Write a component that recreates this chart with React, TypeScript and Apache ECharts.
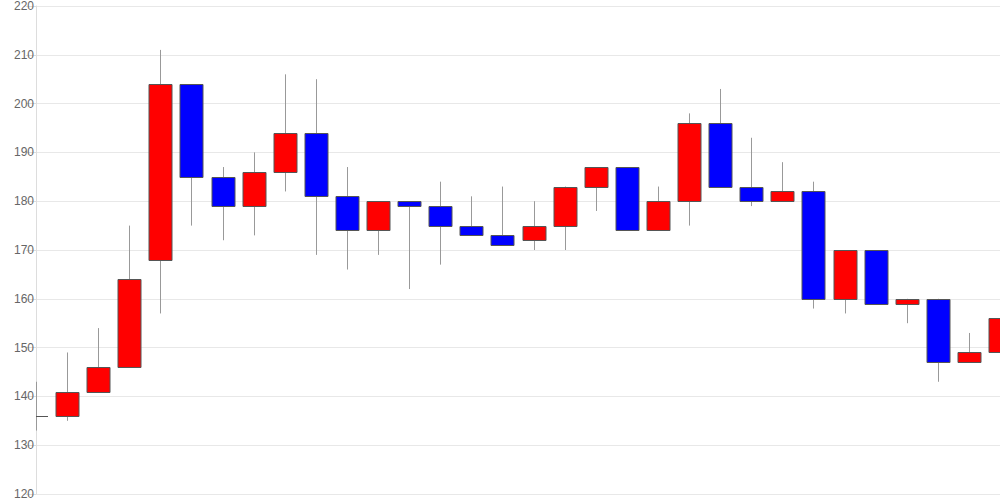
import React, { useEffect, useRef } from "react";
import * as echarts from "echarts";

const categories = [
  "1", "2", "3", "4", "5", "6", "7", "8", "9", "10", "11", "12", "13", "14", "15", "16",
  "17", "18", "19", "20", "21", "22", "23", "24", "25", "26", "27", "28", "29", "30", "31", "32",
];
const opens = [136, 136, 141, 146, 168, 204, 185, 179, 186, 194, 181, 174, 180, 179, 175, 173, 172, 175, 183, 187, 174, 180, 196, 183, 180, 182, 160, 170, 159, 160, 147, 149];
const closes = [136, 141, 146, 164, 204, 185, 179, 186, 194, 181, 174, 180, 179, 175, 173, 171, 175, 183, 187, 174, 180, 196, 183, 180, 182, 160, 170, 159, 160, 147, 149, 156];
const lows = [133, 135, 141, 146, 157, 175, 172, 173, 182, 169, 166, 169, 162, 167, 173, 171, 170, 170, 178, 174, 174, 175, 183, 179, 180, 158, 157, 159, 155, 143, 147, 147];
const highs = [143, 149, 154, 175, 211, 204, 187, 190, 206, 205, 187, 180, 180, 184, 181, 183, 180, 183, 187, 187, 183, 198, 203, 193, 188, 184, 170, 170, 160, 160, 153, 156];

const UP = "#ff0000";
const DOWN = "#0000ff";
const BODY_W = 23;

export default function App() {
  const ref = useRef<HTMLDivElement>(null);
  useEffect(() => {
    if (!ref.current) return;
    const chart = echarts.init(ref.current, undefined, { renderer: "svg" });
    const data = categories.map((_, i) => [i, opens[i], closes[i], lows[i], highs[i]]);
    chart.setOption({
      animation: false,
      textStyle: { fontFamily: "Arial, 'Liberation Sans', sans-serif" },
      grid: { left: 36, right: 0, top: 6, bottom: 6, containLabel: false },
      xAxis: {
        type: "category",
        data: categories,
        boundaryGap: false,
        axisLine: { show: false },
        axisTick: { show: false },
        axisLabel: { show: false },
        splitLine: { show: false },
      },
      yAxis: {
        type: "value",
        min: 120,
        max: 220,
        interval: 10,
        axisLine: { show: true, lineStyle: { color: "#dddddd" } },
        axisTick: { show: true, length: 10, lineStyle: { color: "#dddddd" } },
        axisLabel: { color: "#666666", fontSize: 12, margin: 2 },
        splitLine: { show: true, lineStyle: { color: "#e8e8e8" } },
      },
      series: [
        {
          type: "custom",
          clip: true,
          data,
          encode: { x: 0, y: [1, 2, 3, 4] },
          renderItem: (params: any, api: any) => {
            const idx = api.value(0);
            const o = api.value(1);
            const c = api.value(2);
            const l = api.value(3);
            const h = api.value(4);
            const pO = api.coord([idx, o]);
            const pC = api.coord([idx, c]);
            const pL = api.coord([idx, l]);
            const pH = api.coord([idx, h]);
            const x = Math.round(pO[0]) + 0.5;
            const top = Math.round(Math.min(pO[1], pC[1])) + 0.5;
            const bottom = Math.round(Math.max(pO[1], pC[1])) + 0.5;
            return {
              type: "group",
              children: [
                {
                  type: "line",
                  shape: { x1: x, y1: pH[1], x2: x, y2: pL[1] },
                  style: { stroke: "#999999", lineWidth: 1 },
                },
                {
                  type: "rect",
                  shape: { x: Math.round(x - BODY_W / 2), y: top, width: BODY_W, height: bottom - top },
                  style: { fill: c >= o ? UP : DOWN, stroke: "#555555", lineWidth: 1 },
                },
              ],
            };
          },
        },
      ],
    });
    return () => chart.dispose();
  }, []);
  return (
    <div
      ref={ref}
      style={{ position: "absolute", left: 0, top: 0, width: 1000, height: 500, background: "#fff" }}
    />
  );
}
